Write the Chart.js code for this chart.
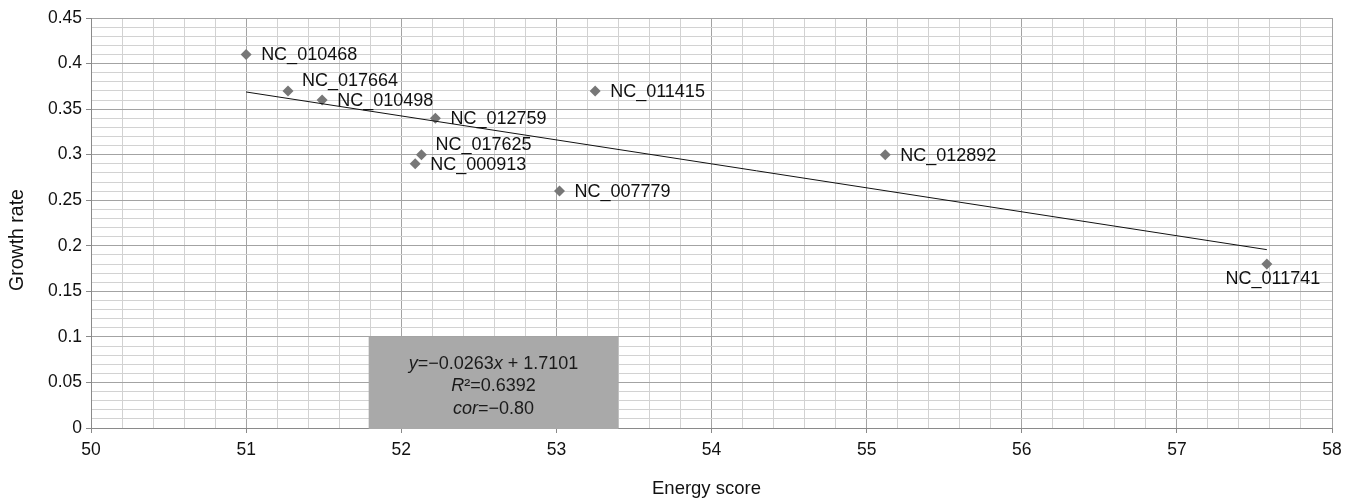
<!DOCTYPE html>
<html>
<head>
<meta charset="utf-8">
<script src="https://cdn.jsdelivr.net/npm/chart.js@4/dist/chart.umd.min.js"></script>
<style>
html,body{margin:0;padding:0;background:#fff;}
#wrap{width:1359px;height:499px;position:relative;}
</style>
</head>
<body>
<div id="wrap"><canvas id="c" width="1359" height="499"></canvas></div>
<script>
// ---- data ----
const strainNames = ['NC_010468','NC_017664','NC_010498','NC_012759','NC_017625','NC_000913','NC_007779','NC_011415','NC_012892','NC_011741'];
const energyScores = [51.0, 51.27, 51.49, 52.22, 52.13, 52.09, 53.02, 53.25, 55.12, 57.58];
const growthRates  = [0.41, 0.37, 0.36, 0.34, 0.30, 0.29, 0.26, 0.37, 0.30, 0.18];
const trendSlope = -0.0263;
const trendIntercept = 1.7101;
const xAxisTitle = 'Energy score';
const yAxisTitle = 'Growth rate';
const xTickRange = [50, 58];
const yTickRange = [0, 0.45];

// label placement (style, not data)
const labelPlacement = {NC_017664:'above', NC_017625:'above', NC_011741:'below'};

const points = energyScores.map((x,i)=>({x:x, y:growthRates[i]}));
const xMin = Math.min(...energyScores), xMax = Math.max(...energyScores);
const trend = [{x:xMin, y:trendSlope*xMin+trendIntercept},{x:xMax, y:trendSlope*xMax+trendIntercept}];

const isInt = v => Math.abs(v - Math.round(v)) < 1e-6;
const isMajorY = v => Math.abs(v*20 - Math.round(v*20)) < 1e-6;

const FONT = '"Liberation Sans", Arial, sans-serif';

const labelPlugin = {
  id:'pointLabels',
  afterDatasetsDraw(chart){
    const ctx = chart.ctx;
    const meta = chart.getDatasetMeta(1);
    ctx.save();
    ctx.font = '18px ' + FONT;
    ctx.fillStyle = '#111';
    meta.data.forEach((el,i)=>{
      const name = strainNames[i];
      const p = labelPlacement[name] || 'right';
      let x = el.x, y = el.y;
      if (p === 'right'){ ctx.textAlign='left'; ctx.textBaseline='middle'; ctx.fillText(name, x+15, y+1); }
      else if (p === 'above'){ ctx.textAlign='left'; ctx.textBaseline='middle'; ctx.fillText(name, x+14, y-10); }
      else { ctx.textAlign='center'; ctx.textBaseline='middle'; ctx.fillText(name, x+6, y+15); }
    });
    ctx.restore();
  }
};

const titlePlugin = {
  id:'axisTitles',
  afterDraw(chart){
    const ctx = chart.ctx;
    const a = chart.chartArea;
    ctx.save();
    ctx.fillStyle = '#111';
    ctx.textAlign = 'center';
    ctx.textBaseline = 'middle';
    ctx.font = '18.5px ' + FONT;
    ctx.fillText(xAxisTitle, (a.left+a.right)/2 - 5, 489);
    ctx.translate(18, (a.top+a.bottom)/2 + 17);
    ctx.rotate(-Math.PI/2);
    ctx.font = '19.5px ' + FONT;
    ctx.fillText(yAxisTitle, 0, 0);
    ctx.restore();
  }
};

const boxPlugin = {
  id:'eqBox',
  beforeDatasetsDraw(chart){
    const ctx = chart.ctx;
    const xs = chart.scales.x, ys = chart.scales.y;
    const l = xs.getPixelForValue(51.79), r = xs.getPixelForValue(53.4);
    const t = ys.getPixelForValue(0.1), b = ys.getPixelForValue(0);
    ctx.save();
    ctx.fillStyle = '#a9a9a9';
    ctx.fillRect(l, t, r-l, b-t+1);
    const cx = (l+r)/2;
    const segsList = [
      [['y',true],['=\u22120.0263',false],['x',true],[' + 1.7101',false]],
      [['R',true],['\u00b2=0.6392',false]],
      [['cor',true],['=\u22120.80',false]]
    ];
    const ys0 = [t+27, t+49, t+72];
    ctx.fillStyle = '#1a1a1a';
    ctx.textBaseline = 'middle';
    ctx.textAlign = 'left';
    segsList.forEach((segs,li)=>{
      let w = 0;
      segs.forEach(s=>{ ctx.font = (s[1]?'italic ':'') + '18px ' + FONT; w += ctx.measureText(s[0]).width; });
      let x = cx - w/2;
      segs.forEach(s=>{ ctx.font = (s[1]?'italic ':'') + '18px ' + FONT; ctx.fillText(s[0], x, ys0[li]); x += ctx.measureText(s[0]).width; });
    });
    ctx.restore();
  }
};

new Chart(document.getElementById('c'), {
  type:'scatter',
  data:{
    datasets:[
      {type:'line', data:trend, borderColor:'#111', borderWidth:1, pointRadius:0, fill:false, tension:0},
      {data:points, pointStyle:'rectRot', pointRadius:5.5, pointHoverRadius:5.5, backgroundColor:'#777', borderColor:'#777', borderWidth:0}
    ]
  },
  options:{
    responsive:false, animation:false,
    layout:{padding:{left:0, right:27, top:18, bottom:0}},
    plugins:{legend:{display:false}, tooltip:{enabled:false}},
    scales:{
      x:{
        type:'linear', min:xTickRange[0], max:xTickRange[1],
        afterFit(s){ s.height = 71; },
        ticks:{stepSize:0.2, autoSkip:false, maxRotation:0, padding:7, color:'#111', font:{family:FONT, size:17.5},
          callback:(v)=> isInt(v) ? String(Math.round(v)) : ''},
        grid:{color:(c)=> isInt(c.tick.value) ? '#a3a3a3' : '#d2d2d2', lineWidth:1,
          tickColor:(c)=> isInt(c.tick.value) ? '#888' : 'rgba(0,0,0,0)', tickLength:5, drawTicks:true},
        border:{color:'#8a8a8a', width:1},
        title:{display:false}
      },
      y:{
        type:'linear', min:yTickRange[0], max:yTickRange[1],
        afterFit(s){ s.width = 91; },
        ticks:{stepSize:0.01, autoSkip:false, padding:4, color:'#111', font:{family:FONT, size:17.5},
          callback:(v)=> isMajorY(v) ? String(parseFloat(v.toFixed(2))) : ''},
        grid:{color:(c)=> isMajorY(c.tick.value) ? '#a3a3a3' : '#d2d2d2', lineWidth:1,
          tickColor:(c)=> isMajorY(c.tick.value) ? '#888' : 'rgba(0,0,0,0)', tickLength:5},
        border:{color:'#8a8a8a', width:1},
        title:{display:false}
      }
    }
  },
  plugins:[boxPlugin, labelPlugin, titlePlugin]
});
</script>
</body>
</html>
